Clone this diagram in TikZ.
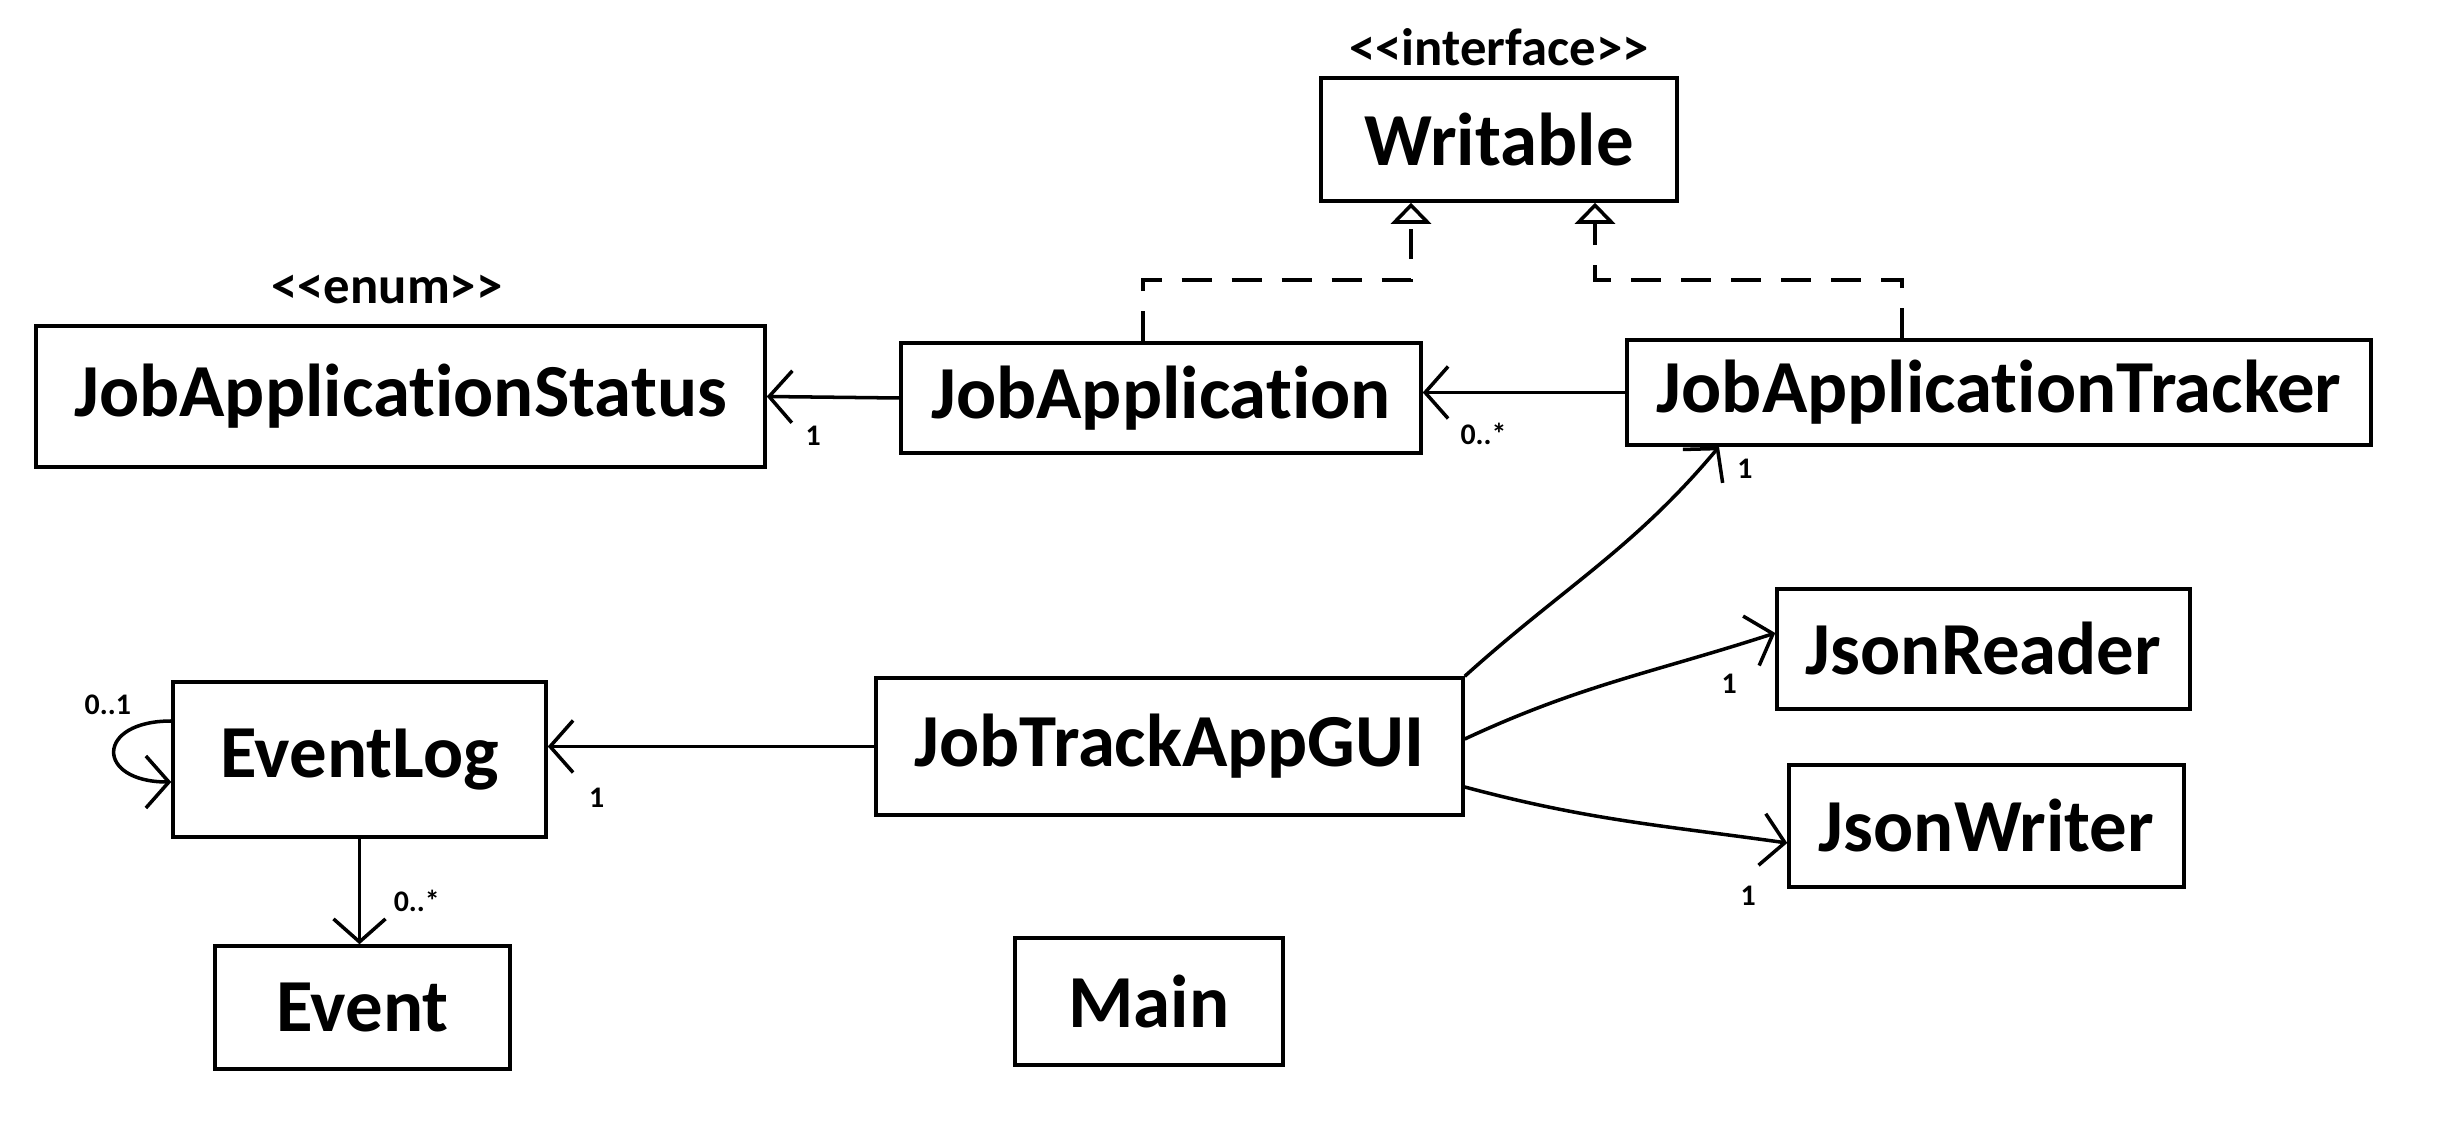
\documentclass[tikz,border=0pt]{standalone}
\usepackage{fontspec}
\setmainfont{Carlito}[Ligatures={NoCommon}]
\usepackage{tikz}
\usetikzlibrary{arrows.meta, positioning}
\newcommand{\stereo}[1]{<\kern0pt<#1>\kern0pt>}

\begin{document}
\begin{tikzpicture}[font=\bfseries,
    cls/.style={draw, line width=1pt, inner sep=0pt, font=\fontsize{21.3}{25}\selectfont\bfseries},
    assoc/.style={line width=1pt, -{Straight Barb[length=2.3mm, width=5.2mm]}},
    realize/.style={line width=1pt, dash pattern=on 3mm off 2mm, -{Triangle[open, length=2.1mm, width=4mm]}},
    mult/.style={font=\fontsize{8.5}{10}\selectfont\bfseries, inner sep=1pt},
    stereotype/.style={font=\fontsize{15}{18}\selectfont\bfseries}]
  \useasboundingbox (0,0) rectangle (24.48,-11.44);
  % --- class boxes: name / centre / size / title ---
  \foreach \nm/\x/\y/\w/\h/\txt in {%
      writable/14.99/-1.395/3.56/1.23/Writable,
      status/4.005/-3.965/7.29/1.41/JobApplicationStatus,
      japp/11.61/-3.98/5.2/1.1/JobApplication,
      tracker/19.99/-3.925/7.44/1.05/JobApplicationTracker,
      evlog/3.595/-7.595/3.73/1.55/EventLog,
      event/3.625/-10.075/2.95/1.23/Event,
      gui/11.695/-7.465/5.87/1.37/JobTrackAppGUI,
      main/11.49/-10.015/2.68/1.27/Main,
      reader/19.835/-6.49/4.13/1.2/JsonReader,
      writer/19.865/-8.26/3.95/1.22/JsonWriter}
    \node[cls, minimum width=\w cm, minimum height=\h cm] (\nm) at (\x,\y) {\txt};
  % --- stereotypes ---
  \node[stereotype] (stInterface) at (14.99,-0.47) {\stereo{interface}};
  \node[stereotype] (stEnum) at (3.87,-2.89) {\stereo{enum}};
  % --- realization of Writable (dashed, open triangle) ---
  \coordinate (jaTop) at ([xshift=-1.8mm]japp.north);
  \coordinate (trTop) at ([xshift=-9.7mm]tracker.north);
  \coordinate (wrLeft) at ([xshift=-8.8mm]writable.south);
  \coordinate (wrRight) at ([xshift=9.6mm]writable.south);
  \draw[realize] (jaTop) |- ([yshift=-7.7mm]wrLeft) -- (wrLeft);
  \draw[realize] (trTop) |- ([yshift=-7.7mm]wrRight) -- (wrRight);
  % --- associations ---
  \draw[assoc] (japp.west) -- node[mult, pos=0.65, below=2.4mm] (mStatus) {1} (status.east);
  \draw[assoc] (tracker.west) -- node[mult, pos=0.7, below=2.5mm] (mJapp) {0..*} (tracker.west -| japp.east);
  \draw[assoc] (gui.west) -- node[mult, pos=0.85, below=3.6mm] (mEvlog) {1} (gui.west -| evlog.east);
  \draw[assoc] (evlog.south) -- node[mult, pos=0.59, right=2.9mm] (mEvent) {0..*} (evlog.south |- event.north);
  % self association of EventLog
  \draw[assoc] ([yshift=3.85mm]evlog.west) to[out=180, in=180, looseness=3.2]
    node[mult, pos=0, left=3.5mm, yshift=1.6mm] (mLoop) {0..1} ([yshift=-2.25mm]evlog.west);
  % GUI to tracker and json classes
  \draw[assoc] (gui.north east) to[out=42, in=230]
    node[mult, pos=1, anchor=west, xshift=1.3mm, yshift=-2.2mm] (mTracker) {1} ([xshift=-28mm]tracker.south);
  \draw[assoc] ([yshift=0.75mm]gui.east) to[out=25, in=198]
    node[mult, pos=1, xshift=-4.6mm, yshift=-5.1mm] (mReader) {1} ([yshift=1.6mm]reader.west);
  \draw[assoc] ([yshift=-4.05mm]gui.east) to[out=-15, in=172]
    node[mult, pos=1, xshift=-3.9mm, yshift=-5.3mm] (mWriter) {1} ([yshift=-1.7mm]writer.west);
\end{tikzpicture}
\end{document}
